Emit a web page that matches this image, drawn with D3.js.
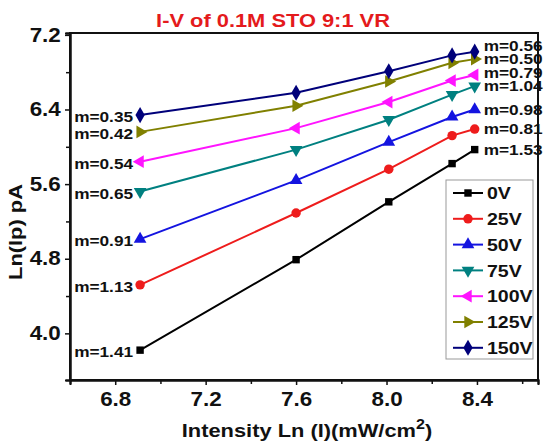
<!DOCTYPE html>
<html>
<head>
<meta charset="utf-8">
<script src="https://cdn.jsdelivr.net/npm/d3@7"></script>
<style>
  body { margin: 0; background: #fff; }
  text { font-family: "Liberation Sans", Arial, sans-serif; font-weight: bold; }
</style>
</head>
<body>
<div id="chart"></div>
<script>
// ln of light intensity (mW/cm2)
const xValues = [6.91, 7.60, 8.01, 8.29, 8.39];

// Ln(Ip) for each bias voltage
const v0   = [3.82, 4.79, 5.41, 5.82, 5.97];
const v25  = [4.52, 5.29, 5.76, 6.12, 6.19];
const v50  = [5.01, 5.64, 6.05, 6.32, 6.40];
const v75  = [5.52, 5.97, 6.29, 6.56, 6.65];
const v100 = [5.84, 6.20, 6.48, 6.71, 6.77];
const v125 = [6.16, 6.44, 6.70, 6.90, 6.94];
const v150 = [6.34, 6.58, 6.81, 6.98, 7.02];

const voltages = ["0V", "25V", "50V", "75V", "100V", "125V", "150V"];
const slopeLow  = ["1.41", "1.13", "0.91", "0.65", "0.54", "0.42", "0.35"];
const slopeHigh = ["1.53", "0.81", "0.98", "1.04", "0.79", "0.50", "0.56"];

const xTicks = [6.8, 7.2, 7.6, 8.0, 8.4];
const xMinor = [7.0, 7.4, 7.8, 8.2, 8.6];
const yTicks = [4.0, 4.8, 5.6, 6.4, 7.2];
const yMinor = [4.4, 5.2, 6.0, 6.8];

const series = [v0, v25, v50, v75, v100, v125, v150].map((vals, i) => ({
  name: voltages[i],
  low: slopeLow[i],
  high: slopeHigh[i],
  points: vals.map((v, j) => ({ x: xValues[j], y: v }))
}));

// styles
const colors = ["#000000", "#ee1c1c", "#1414e0", "#008080", "#ff14ff", "#808000", "#00007a"];
const shapes = [
  { type: d3.symbolSquare, size: 55, rot: 0 },
  { type: d3.symbolCircle, size: 70, rot: 0 },
  { type: d3.symbolTriangle, size: 70, rot: 0 },
  { type: d3.symbolTriangle, size: 70, rot: 180 },
  { type: d3.symbolTriangle, size: 70, rot: -90 },
  { type: d3.symbolTriangle, size: 70, rot: 90 },
  { type: d3.symbolDiamond, size: 75, rot: 0 }
];
const stretch = 1.15; // the original's lettering is a bit wide

const width = 546, height = 445;
const margin = { top: 33, right: 8, bottom: 65, left: 70 };

const svg = d3.select("#chart").append("svg")
  .attr("width", width)
  .attr("height", height);

const x = d3.scaleLinear().domain([6.6, 8.67]).range([margin.left, width - margin.right]);
const y = d3.scaleLinear().domain([3.5, 7.22]).range([height - margin.bottom, margin.top]);

// helper for horizontally stretched text
const label = (parent, px, py, str, size, anchor, fill) =>
  parent.append("g")
    .attr("transform", `translate(${px},${py}) scale(${stretch},1)`)
    .append("text")
    .attr("text-anchor", anchor)
    .style("font-size", size + "px")
    .style("fill", fill || "#111")
    .text(str);

// title
label(svg, 273, 27, "I-V of 0.1M STO 9:1 VR", 19, "middle", "#e41a1c");

// frame
svg.append("rect")
  .attr("x", x.range()[0]).attr("y", y.range()[1])
  .attr("width", x.range()[1] - x.range()[0])
  .attr("height", y.range()[0] - y.range()[1])
  .attr("fill", "none").attr("stroke", "#111").attr("stroke-width", 2);

// axes
const xAxis = svg.append("g")
  .attr("transform", `translate(0,${y.range()[0]})`)
  .call(d3.axisBottom(x).tickValues(xTicks).tickSize(5).tickFormat(d3.format(".1f")));
svg.append("g")
  .attr("transform", `translate(0,${y.range()[0]})`)
  .call(d3.axisBottom(x).tickValues(xMinor).tickSize(4).tickFormat(""));

const yAxis = svg.append("g")
  .attr("transform", `translate(${x.range()[0]},0)`)
  .call(d3.axisLeft(y).tickValues(yTicks).tickSize(5).tickFormat(d3.format(".1f")));
svg.append("g")
  .attr("transform", `translate(${x.range()[0]},0)`)
  .call(d3.axisLeft(y).tickValues(yMinor).tickSize(4).tickFormat(""));

svg.selectAll(".domain").attr("stroke", "#111").attr("stroke-width", 2);
svg.selectAll(".tick line").attr("stroke", "#111").attr("stroke-width", 1.5);
xAxis.selectAll(".tick text")
  .attr("y", 12)
  .attr("transform", `scale(${stretch},1)`)
  .style("font-size", "19.5px").style("fill", "#111");
yAxis.selectAll(".tick text")
  .attr("x", -8)
  .attr("transform", `scale(${stretch},1)`)
  .style("font-size", "19.5px").style("fill", "#111");

// axis titles
const xt = svg.append("g")
  .attr("transform", `translate(307,437) scale(${stretch},1)`)
  .append("text")
  .attr("text-anchor", "middle")
  .style("font-size", "19px").style("fill", "#111");
xt.append("tspan").text("Intensity Ln (I)(mW/cm");
xt.append("tspan").attr("dy", -8).style("font-size", "14px").text("2");
xt.append("tspan").attr("dy", 8).text(")");

svg.append("g")
  .attr("transform", `translate(22,232) rotate(-90) scale(${stretch},1)`)
  .append("text")
  .attr("text-anchor", "middle")
  .style("font-size", "19px").style("fill", "#111")
  .text("Ln(Ip) pA");

// lines and markers
const line = d3.line().x(d => x(d.x)).y(d => y(d.y));
const symbolPath = i => d3.symbol().type(shapes[i].type).size(shapes[i].size)();

series.forEach((s, i) => {
  const g = svg.append("g");
  g.append("path")
    .attr("d", line(s.points))
    .attr("fill", "none")
    .attr("stroke", colors[i])
    .attr("stroke-width", 2);
  g.selectAll("path.pt").data(s.points).enter()
    .append("path")
    .attr("class", "pt")
    .attr("d", symbolPath(i))
    .attr("transform", d => `translate(${x(d.x)},${y(d.y)}) rotate(${shapes[i].rot})`)
    .attr("fill", colors[i]);
});

// slope labels at the low-intensity end
series.forEach(s => {
  const p = s.points[0];
  label(svg, x(p.x) - 7, y(p.y) + 2, "m=" + s.low, 15, "end").attr("dy", "0.35em");
});

// slope labels at the high-intensity end, nudged apart where they crowd
let prevY = Infinity;
series.forEach(s => {
  const p = s.points[s.points.length - 1];
  const ly = Math.min(y(p.y), prevY - 13.5);
  prevY = ly;
  label(svg, x(p.x) + 9, ly, "m=" + s.high, 15, "start").attr("dy", "0.35em");
});

// legend
const legend = svg.append("g").attr("transform", "translate(446,180)");
legend.append("rect")
  .attr("width", 87).attr("height", 179)
  .attr("fill", "#fff").attr("stroke", "#999").attr("stroke-width", 1);
series.forEach((s, i) => {
  const row = legend.append("g").attr("transform", `translate(0,${13 + i * 25.8})`);
  row.append("line")
    .attr("x1", 7).attr("x2", 37)
    .attr("stroke", colors[i]).attr("stroke-width", 2);
  row.append("path")
    .attr("d", symbolPath(i))
    .attr("transform", `translate(22,0) rotate(${shapes[i].rot})`)
    .attr("fill", colors[i]);
  label(row, 41, 0, s.name, 17, "start").attr("dy", "0.36em");
});
</script>
</body>
</html>
